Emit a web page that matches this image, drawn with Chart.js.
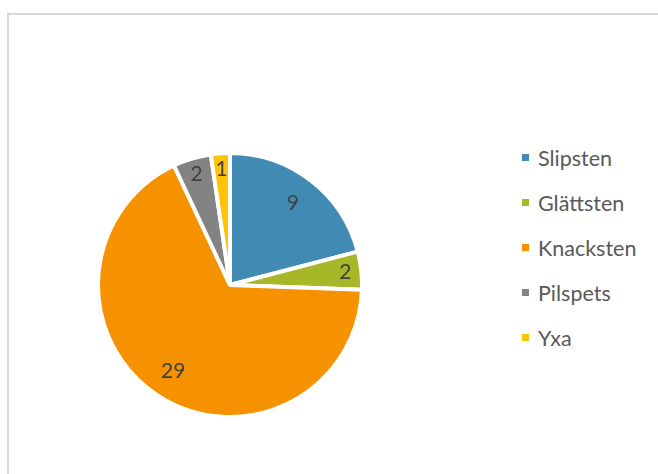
<!DOCTYPE html>
<html>
<head>
<meta charset="utf-8">
<script src="https://cdn.jsdelivr.net/npm/chart.js@4/dist/chart.umd.min.js"></script>
<style>
  html, body { margin: 0; padding: 0; background: #fff; overflow: hidden; }
  body { width: 658px; height: 474px; position: relative; font-family: Lato, "DejaVu Sans", sans-serif; }
  #frame { position: absolute; left: 7px; top: 13px; width: 700px; height: 520px; border: 2px solid #d9d9d9; box-sizing: border-box; }
  #pie-wrap { position: absolute; left: 96px; top: 151px; width: 268px; height: 268px; }
  #legend { position: absolute; left: 522px; top: 135px; margin: 0; padding: 0; list-style: none; }
  #legend li { height: 45px; display: flex; align-items: center; font-size: 21.5px; color: #595959; }
  #legend .box { width: 7px; height: 7px; margin-right: 9px; display: inline-block; }
</style>
</head>
<body>
<div id="frame"></div>
<div id="pie-wrap"><canvas id="pieChart"></canvas></div>
<ul id="legend"></ul>
<script>
// Datos del gráfico
const categories = ['Slipsten', 'Glättsten', 'Knacksten', 'Pilspets', 'Yxa'];
const counts = [9, 2, 29, 2, 1];
const sliceColors = ['#418AB3', '#A6B727', '#F69200', '#838383', '#FEC306'];

// Etiquetas de valor dentro de cada porción
const sliceLabels = {
    id: 'sliceLabels',
    afterDatasetsDraw(chart) {
        const meta = chart.getDatasetMeta(0);
        const total = counts.reduce((a, b) => a + b, 0);
        const ctx = chart.ctx;
        ctx.save();
        ctx.font = '21px Lato';
        ctx.fillStyle = '#404040';
        ctx.textAlign = 'center';
        ctx.textBaseline = 'middle';
        meta.data.forEach((arc, i) => {
            const { x, y, startAngle, endAngle, outerRadius } =
                arc.getProps(['x', 'y', 'startAngle', 'endAngle', 'outerRadius'], true);
            const mid = (startAngle + endAngle) / 2;
            const r = outerRadius * (counts[i] / total > 0.1 ? 0.78 : 0.88);
            ctx.fillText(String(counts[i]), x + Math.cos(mid) * r, y + Math.sin(mid) * r);
        });
        ctx.restore();
    }
};

const chart = new Chart(document.getElementById('pieChart').getContext('2d'), {
    type: 'pie',
    data: {
        labels: categories,
        datasets: [{
            data: counts,
            backgroundColor: sliceColors,
            borderColor: '#fff',
            borderWidth: 4
        }]
    },
    options: {
        responsive: true,
        maintainAspectRatio: false,
        animation: false,
        layout: { padding: 0 },
        plugins: {
            legend: { display: false },
            tooltip: { enabled: false }
        }
    },
    plugins: [sliceLabels]
});

// Leyenda HTML generada desde las etiquetas de Chart.js
const legendEl = document.getElementById('legend');
Chart.overrides.pie.plugins.legend.labels.generateLabels(chart).forEach(item => {
    const li = document.createElement('li');
    const box = document.createElement('span');
    box.className = 'box';
    box.style.background = item.fillStyle;
    li.appendChild(box);
    li.appendChild(document.createTextNode(item.text));
    legendEl.appendChild(li);
});
</script>
</body>
</html>
